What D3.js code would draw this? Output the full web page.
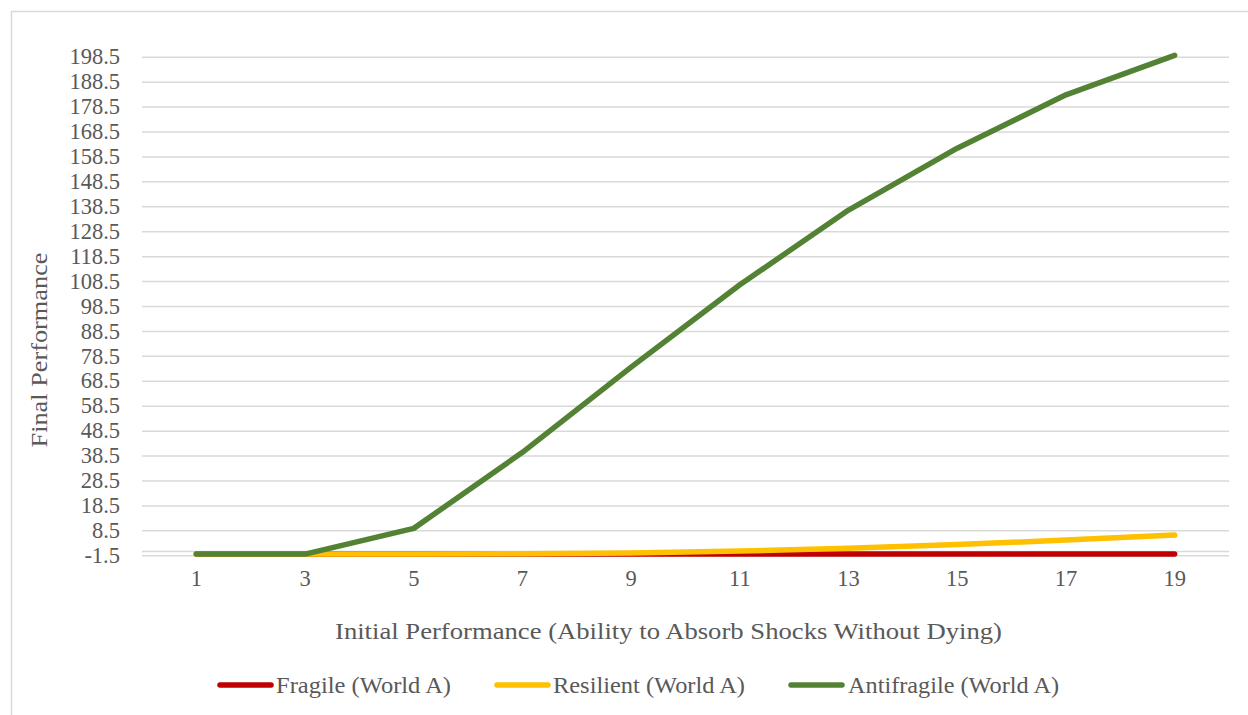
<!DOCTYPE html>
<html>
<head>
<meta charset="utf-8">
<script src="https://cdn.jsdelivr.net/npm/d3@7"></script>
<style>
  html, body { margin: 0; padding: 0; background: #fff; }
  svg { display: block; }
  text { font-family: "Liberation Serif", "Times New Roman", serif; fill: #595959; }
</style>
</head>
<body>
<svg id="chart" width="1248" height="715"></svg>
<script>
// Initial performance levels (category axis)
const categories = [1, 3, 5, 7, 9, 11, 13, 15, 17, 19];

// Final performance per strategy
const fragile     = [-1, -1, -1, -1, -1, -1, -1, -1, -1, -1];
const resilient   = [-1, -1, -1, -0.9, -0.6, 0.2, 1.3, 2.8, 4.6, 6.6];
const antifragile = [-1, -1, 9.3, 39.8, 74, 107, 137, 161.8, 183.2, 199];

// Value axis ticks
const yTicks = d3.range(-1.5, 199, 10);

const seriesNames  = ["Fragile (World A)", "Resilient (World A)", "Antifragile (World A)"];
const seriesColors = ["#C00000", "#FFC000", "#548235"];
const seriesValues = [fragile, resilient, antifragile];

const svg = d3.select("#chart");

// Chart frame
svg.append("rect")
  .attr("x", 11.5).attr("y", 11.5)
  .attr("width", 1260).attr("height", 720)
  .attr("fill", "none").attr("stroke", "#D9D9D9").attr("stroke-width", 1.5);

const plot = { left: 142, right: 1229, top: 56.7, bottom: 555.3 };

const x = d3.scaleBand().domain(categories).range([plot.left, plot.right]);
const y = d3.scaleLinear().domain([-1.5, 198.5]).range([plot.bottom, plot.top]);
const cx = d => x(d) + x.bandwidth() / 2;

// Horizontal gridlines
const yAxis = d3.axisLeft(y)
  .tickValues(yTicks)
  .tickSize(-(plot.right - plot.left))
  .tickPadding(22)
  .tickFormat(d => d.toFixed(1));

const gy = svg.append("g")
  .attr("transform", `translate(${plot.left},0)`)
  .call(yAxis);
gy.select(".domain").remove();
gy.selectAll(".tick line").attr("stroke", "#D9D9D9").attr("stroke-width", 1.5);
gy.selectAll(".tick text")
  .attr("font-size", 22.5)
  .attr("fill", "#595959");

// Category axis line, crossing at zero
svg.append("line")
  .attr("x1", plot.left).attr("x2", plot.right)
  .attr("y1", y(0)).attr("y2", y(0))
  .attr("stroke", "#D9D9D9").attr("stroke-width", 1.5);

// Category labels
const xAxis = d3.axisBottom(x).tickSize(0).tickPadding(0);
const gx = svg.append("g")
  .attr("transform", `translate(0,${plot.bottom + 10})`)
  .call(xAxis);
gx.select(".domain").remove();
gx.selectAll(".tick text")
  .attr("font-size", 22.5)
  .attr("fill", "#595959")
  .attr("dy", "0.92em");

// Series lines
const line = d3.line()
  .x((d, i) => cx(categories[i]))
  .y(d => y(d));

seriesValues.forEach((vals, k) => {
  svg.append("path")
    .datum(vals)
    .attr("d", line)
    .attr("fill", "none")
    .attr("stroke", seriesColors[k])
    .attr("stroke-width", 5.5)
    .attr("stroke-linecap", "round")
    .attr("stroke-linejoin", "round");
});

// Axis titles
svg.append("text")
  .attr("x", 668.5)
  .attr("y", 639)
  .attr("text-anchor", "middle")
  .attr("font-size", 24)
  .attr("textLength", 667)
  .attr("lengthAdjust", "spacingAndGlyphs")
  .text("Initial Performance (Ability to Absorb Shocks Without Dying)");

svg.append("text")
  .attr("transform", "translate(47,350) rotate(-90)")
  .attr("text-anchor", "middle")
  .attr("font-size", 24)
  .attr("textLength", 195)
  .attr("lengthAdjust", "spacingAndGlyphs")
  .text("Final Performance");

// Legend
const legendItems = [
  { sx: 218, tx: 276, w: 175 },
  { sx: 495, tx: 553, w: 192 },
  { sx: 789, tx: 848, w: 211 }
];
const legY = 685;
legendItems.forEach((it, k) => {
  svg.append("line")
    .attr("x1", it.sx + 2).attr("x2", it.sx + 53)
    .attr("y1", legY).attr("y2", legY)
    .attr("stroke", seriesColors[k])
    .attr("stroke-width", 5.5)
    .attr("stroke-linecap", "round");
  svg.append("text")
    .attr("x", it.tx).attr("y", legY + 7.5)
    .attr("font-size", 23)
    .attr("textLength", it.w)
    .attr("lengthAdjust", "spacingAndGlyphs")
    .text(seriesNames[k]);
});
</script>
</body>
</html>
